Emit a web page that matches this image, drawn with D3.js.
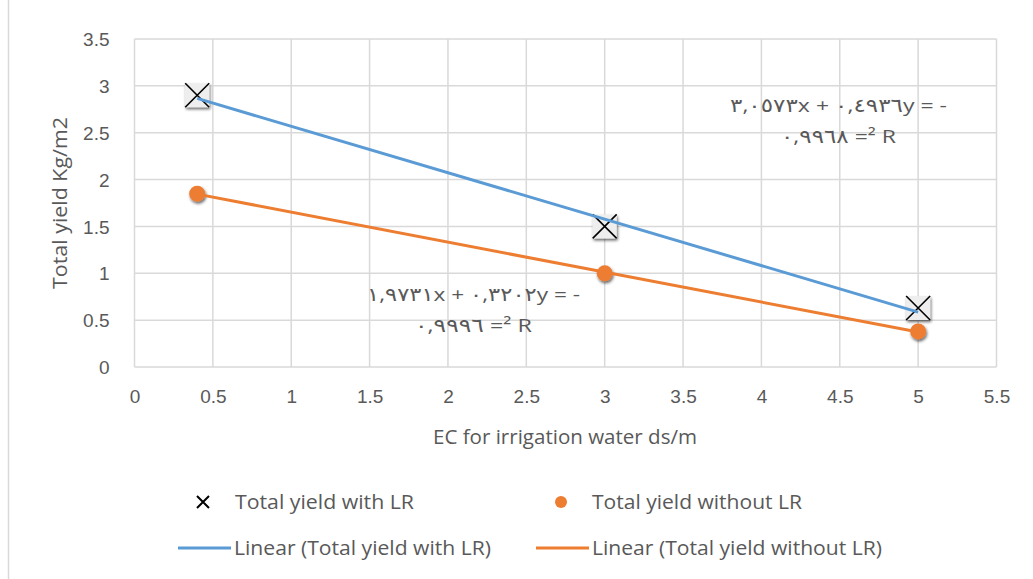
<!DOCTYPE html>
<html>
<head>
<meta charset="utf-8">
<script src="https://cdn.jsdelivr.net/npm/d3@7/dist/d3.min.js"></script>
<style>
  html, body { margin: 0; padding: 0; background: #fff; }
  svg { display: block; font-family: "Open Sans", "Noto Sans", "DejaVu Sans", sans-serif; }
</style>
</head>
<body>
<div id="chart"></div>
<script>
// EC values (ds/m) and yields
const ecValues = [0.4, 3, 5];
const yieldWithLR = [2.9, 1.5, 0.63];
const yieldWithoutLR = [1.85, 1.0, 0.38];

const xTicks = [0, 0.5, 1, 1.5, 2, 2.5, 3, 3.5, 4, 4.5, 5, 5.5];
const yTicks = [0, 0.5, 1, 1.5, 2, 2.5, 3, 3.5];

const seriesNames = ["Total yield with LR", "Total yield without LR"];
const trendNames = ["Linear (Total yield with LR)", "Linear (Total yield without LR)"];

// trendline labels as shown (visual order)
const eqWith = ["٣,٠٥٧٣x + ٠,٤٩٣٦y = -", "٠,٩٩٦٨ =² R"];
const eqWithout = ["١,٩٧٣١x + ٠,٣٢٠٢y = -", "٠,٩٩٩٦ =² R"];

const blue = "#5b9bd5", orange = "#ed7d31", textColor = "#595959", gridColor = "#d9d9d9";
const fs = "19px";

const W = 1033, H = 579;
const plot = { left: 134.5, right: 996.5, top: 39, bottom: 367 };

const svg = d3.select("#chart").append("svg")
    .attr("width", W)
    .attr("height", H);

// shadow filter for markers
const defs = svg.append("defs");
const f = defs.append("filter").attr("id", "shadow")
    .attr("x", "-50%").attr("y", "-50%").attr("width", "200%").attr("height", "200%");
f.append("feGaussianBlur").attr("in", "SourceAlpha").attr("stdDeviation", 1.6).attr("result", "blur");
f.append("feOffset").attr("in", "blur").attr("dx", 1).attr("dy", 1.5).attr("result", "off");
f.append("feComponentTransfer").attr("in", "off").attr("result", "soft")
    .append("feFuncA").attr("type", "linear").attr("slope", 0.6);
const fm = f.append("feMerge");
fm.append("feMergeNode").attr("in", "soft");
fm.append("feMergeNode").attr("in", "SourceGraphic");

// outer chart border (left edge visible)
svg.append("line")
    .attr("x1", 8.5).attr("x2", 8.5).attr("y1", 0).attr("y2", H)
    .attr("stroke", gridColor).attr("stroke-width", 1.5);

const x = d3.scaleLinear().domain([0, 5.5]).range([plot.left, plot.right]);
const y = d3.scaleLinear().domain([0, 3.5]).range([plot.bottom, plot.top]);

// grid
svg.append("g").selectAll("line").data(xTicks).join("line")
    .attr("x1", d => x(d)).attr("x2", d => x(d))
    .attr("y1", plot.top).attr("y2", plot.bottom)
    .attr("stroke", gridColor).attr("stroke-width", 1.5);
svg.append("g").selectAll("line").data(yTicks).join("line")
    .attr("x1", plot.left).attr("x2", plot.right)
    .attr("y1", d => y(d)).attr("y2", d => y(d))
    .attr("stroke", gridColor).attr("stroke-width", 1.5);

// axes (labels only, Excel style)
const xAxis = svg.append("g")
    .attr("transform", `translate(0,${plot.bottom + 19})`)
    .call(d3.axisBottom(x).tickValues(xTicks).tickSize(0).tickFormat(d3.format("")));
xAxis.select(".domain").remove();
xAxis.selectAll("text").attr("fill", textColor).style("font-size", fs).style("font-family", null);

const yAxis = svg.append("g")
    .attr("transform", `translate(${plot.left - 22},0)`)
    .call(d3.axisLeft(y).tickValues(yTicks).tickSize(0).tickFormat(d3.format("")));
yAxis.select(".domain").remove();
yAxis.selectAll("text").attr("fill", textColor).attr("dy", "0.35em").style("font-size", fs).style("font-family", null);

// helper: text stretched to the width seen in the chart
function label(parent, tx, ty, str, len, anchor) {
    return parent.append("text")
        .attr("x", tx).attr("y", ty)
        .attr("text-anchor", anchor || "start")
        .attr("fill", textColor)
        .style("font-size", "20px")
        .attr("textLength", len)
        .attr("lengthAdjust", "spacingAndGlyphs")
        .text(str);
}

// axis titles
label(svg, 565, 444, "EC for irrigation water ds/m", 264, "middle");
label(svg.append("g").attr("transform", `translate(67,${(plot.top + plot.bottom) / 2}) rotate(-90)`),
    0, 0, "Total yield Kg/m2", 172, "middle");

// markers
function drawX(g, cx, cy, s) {
    g.append("rect")
        .attr("x", cx - 12).attr("y", cy - 12)
        .attr("width", 24).attr("height", 24)
        .attr("fill", "#eeeeee")
        .attr("filter", "url(#shadow)");
    g.append("path")
        .attr("d", `M${cx - s},${cy - s}L${cx + s},${cy + s}M${cx + s},${cy - s}L${cx - s},${cy + s}`)
        .attr("stroke", "#000").attr("stroke-width", 1.6).attr("fill", "none");
}

const withPts = ecValues.map((d, i) => ({ x: d, y: yieldWithLR[i] }));
const withoutPts = ecValues.map((d, i) => ({ x: d, y: yieldWithoutLR[i] }));

const mk = svg.append("g");
withPts.forEach(p => drawX(mk, x(p.x), y(p.y), 12));
mk.selectAll("circle").data(withoutPts).join("circle")
    .attr("cx", d => x(d.x)).attr("cy", d => y(d.y))
    .attr("r", 8)
    .attr("fill", orange)
    .attr("filter", "url(#shadow)");

// linear trendlines (least squares)
function fit(pts) {
    const mx = d3.mean(pts, d => d.x), my = d3.mean(pts, d => d.y);
    const sxy = d3.sum(pts, d => (d.x - mx) * (d.y - my));
    const sxx = d3.sum(pts, d => (d.x - mx) ** 2);
    const m = sxy / sxx;
    return { m, b: my - m * mx };
}

[[withPts, blue], [withoutPts, orange]].forEach(([pts, col]) => {
    const { m, b } = fit(pts);
    const ext = d3.extent(pts, d => d.x);
    svg.append("line")
        .attr("x1", x(ext[0])).attr("y1", y(m * ext[0] + b))
        .attr("x2", x(ext[1])).attr("y2", y(m * ext[1] + b))
        .attr("stroke", col).attr("stroke-width", 3);
});

// equation labels
function eqLabel(lines, lens, cx, cy) {
    lines.forEach((s, i) => {
        label(svg, cx, cy + i * 31, s, lens[i], "middle")
            .style("font-size", fs)
            .attr("direction", "ltr")
            .attr("unicode-bidi", "bidi-override");
    });
}
eqLabel(eqWith, [217, 115], 838.5, 112);
eqLabel(eqWithout, [213, 117], 473.5, 301);

// legend
const leg = svg.append("g");
leg.append("path")
    .attr("d", "M197,496L209,508M209,496L197,508")
    .attr("stroke", "#000").attr("stroke-width", 2);
label(leg, 235, 509, seriesNames[0], 179);
leg.append("circle").attr("cx", 561).attr("cy", 502).attr("r", 6).attr("fill", orange);
label(leg, 592, 509, seriesNames[1], 210);

leg.append("line").attr("x1", 178).attr("x2", 231).attr("y1", 548).attr("y2", 548)
    .attr("stroke", blue).attr("stroke-width", 3);
label(leg, 234, 555, trendNames[0], 257);
leg.append("line").attr("x1", 536).attr("x2", 589).attr("y1", 548).attr("y2", 548)
    .attr("stroke", orange).attr("stroke-width", 3);
label(leg, 592, 555, trendNames[1], 290);
</script>
</body>
</html>
